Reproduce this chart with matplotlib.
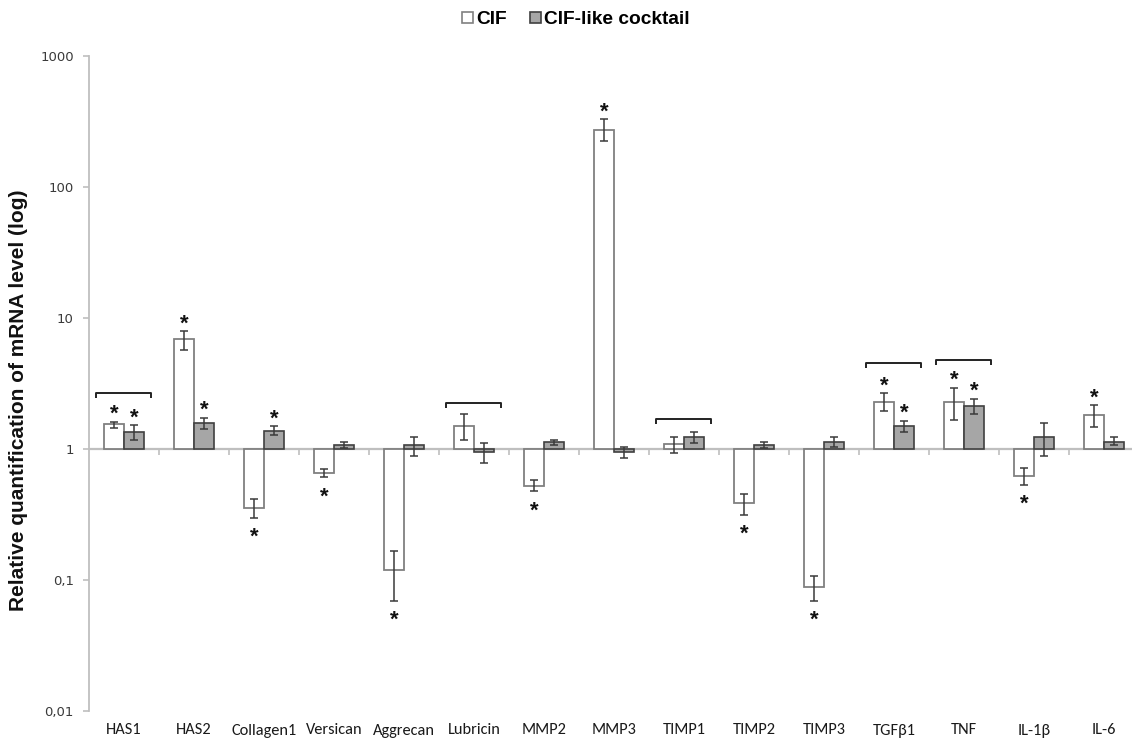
import matplotlib
matplotlib.use("Agg")
import matplotlib.pyplot as plt
from matplotlib import font_manager
from matplotlib.ticker import FixedLocator, FixedFormatter, NullLocator
from matplotlib.patches import Patch
import numpy as np

# ---------------- data ----------------
genes = ["HAS1", "HAS2", "Collagen1", "Versican", "Aggrecan", "Lubricin", "MMP2",
         "MMP3", "TIMP1", "TIMP2", "TIMP3", "TGFβ1", "TNF", "IL-1β", "IL-6"]

cif = [1.54, 6.9, 0.356, 0.66, 0.119, 1.49, 0.52, 272, 1.086, 0.385, 0.0885, 2.30, 2.30, 0.625, 1.81]
cif_lo = [1.44, 5.7, 0.297, 0.608, 0.069, 1.18, 0.476, 224, 0.93, 0.314, 0.069, 1.94, 1.66, 0.531, 1.46]
cif_hi = [1.62, 7.9, 0.415, 0.707, 0.166, 1.84, 0.577, 330, 1.23, 0.456, 0.108, 2.66, 2.94, 0.712, 2.16]

cock = [1.34, 1.58, 1.37, 1.07, 1.07, 0.944, 1.13, 0.95, 1.23, 1.07, 1.14, 1.49, 2.13, 1.23, 1.14]
cock_lo = [1.17, 1.43, 1.28, 1.01, 0.88, 0.78, 1.07, 0.86, 1.12, 1.02, 1.04, 1.35, 1.85, 0.88, 1.07]
cock_hi = [1.52, 1.73, 1.49, 1.13, 1.24, 1.105, 1.18, 1.04, 1.36, 1.13, 1.23, 1.64, 2.42, 1.57, 1.24]

cif_sig = [1, 1, 1, 1, 1, 0, 1, 1, 0, 1, 1, 1, 1, 1, 1]
cock_sig = [1, 1, 1, 0, 0, 0, 0, 0, 0, 0, 0, 1, 1, 0, 0]

bracket_genes = ["HAS1", "Lubricin", "TIMP1", "TGFβ1", "TNF"]
bracket_level = [2.69, 2.24, 1.70, 4.51, 4.81]

ytick_vals = [0.01, 0.1, 1, 10, 100, 1000]
ytick_labels = ["0,01", "0,1", "1", "10", "100", "1000"]

series_names = ["CIF", "CIF-like cocktail"]

# ---------------- fonts ----------------
avail = {f.name for f in font_manager.fontManager.ttflist}
def pick(*names):
    for n in names:
        if n in avail:
            return n
    return "DejaVu Sans"

arial = pick("Liberation Sans", "Arial", "DejaVu Sans")
calibri = pick("Carlito", "Lato", "Open Sans", "Liberation Sans")
tickfont = pick("DejaVu Sans")

# ---------------- figure ----------------
W, H = 1132, 740
fig = plt.figure(figsize=(W / 100, H / 100), dpi=100)
ax = fig.add_axes([89 / W, (H - 711) / H, 1050 / W, 655 / H])
ax.set_yscale("log")
ax.set_ylim(0.01, 1000)
n = len(genes)
x = np.arange(n)
ax.set_xlim(-0.5, n - 0.5)

bw = 0.29
white_edge = "#808080"
gray_fill = "#a6a6a6"
gray_edge = "#404040"
err_col = "#3a3a3a"

cif_a = np.array(cif)
cock_a = np.array(cock)
ax.bar(x - bw / 2, cif_a - 1, bottom=1, width=bw, color="white", edgecolor=white_edge,
       linewidth=1.3, zorder=2)
ax.bar(x + bw / 2, cock_a - 1, bottom=1, width=bw, color=gray_fill, edgecolor=gray_edge,
       linewidth=1.2, zorder=2)

ax.errorbar(x - bw / 2, cif_a, yerr=[cif_a - np.array(cif_lo), np.array(cif_hi) - cif_a],
            fmt="none", ecolor=err_col, elinewidth=1.1, capsize=3.2, capthick=1.1, zorder=3)
ax.errorbar(x + bw / 2, cock_a, yerr=[cock_a - np.array(cock_lo), np.array(cock_hi) - cock_a],
            fmt="none", ecolor=err_col, elinewidth=1.1, capsize=3.2, capthick=1.1, zorder=3)

# horizontal axis line at 1 with category boundary ticks
ax.axhline(1, color="#bfbfbf", linewidth=1.6, zorder=1)
tick_drop = 10 ** (-6 / 131)
ax.vlines(np.arange(n) + 0.5, tick_drop, 1, color="#bfbfbf", linewidth=1.2, zorder=1)

# significance asterisks
def star(xpos, val, lo, hi):
    if val >= 1:
        ax.annotate("*", (xpos, hi), xytext=(0, 1.2), textcoords="offset points",
                    ha="center", va="baseline", fontsize=16, fontweight="bold",
                    family=arial, color="#111111", zorder=4)
    else:
        ax.annotate("*", (xpos, lo), xytext=(0, -18), textcoords="offset points",
                    ha="center", va="baseline", fontsize=16, fontweight="bold",
                    family=arial, color="#111111", zorder=4)

for i in range(n):
    if cif_sig[i]:
        star(x[i] - bw / 2, cif[i], cif_lo[i], cif_hi[i])
    if cock_sig[i]:
        star(x[i] + bw / 2, cock[i], cock_lo[i], cock_hi[i])

# brackets
bdrop = 10 ** (-5 / 131)
for g, lvl in zip(bracket_genes, bracket_level):
    i = genes.index(g)
    xs = [i - 0.4, i - 0.4, i + 0.39, i + 0.39]
    ys = [lvl * bdrop, lvl, lvl, lvl * bdrop]
    ax.plot(xs, ys, color="#222222", linewidth=1.4, zorder=4, solid_capstyle="butt")

# axes styling
for s in ["top", "right", "bottom"]:
    ax.spines[s].set_visible(False)
ax.spines["left"].set_color("#bfbfbf")
ax.spines["left"].set_linewidth(1.3)
ax.yaxis.set_major_locator(FixedLocator(ytick_vals))
ax.yaxis.set_major_formatter(FixedFormatter(ytick_labels))
ax.yaxis.set_minor_locator(NullLocator())
ax.tick_params(axis="y", which="major", length=4, width=1.2, color="#bfbfbf",
               labelsize=9.5, labelcolor="#3a3a3a", pad=7)
for lab in ax.get_yticklabels():
    lab.set_family(tickfont)

ax.set_xticks(x)
ax.set_xticklabels(genes, family=calibri, fontsize=11.8, color="#1a1a1a")
ax.tick_params(axis="x", length=0, pad=9)

ax.set_ylabel("Relative quantification of mRNA level (log)", family=arial,
              fontweight="bold", fontsize=15, color="#111111")
ax.yaxis.label.set_va("center")
ax.yaxis.set_label_coords((19 - 89) / 1050, (711 - 400) / 655)

handles = [Patch(facecolor="white", edgecolor=white_edge, linewidth=1.2),
           Patch(facecolor=gray_fill, edgecolor=gray_edge, linewidth=1.2)]
fig.legend(handles, series_names, loc="center", bbox_to_anchor=(576 / W, 1 - 20 / H),
           ncol=2, frameon=False, handlelength=0.55, handleheight=0.55, handletextpad=0.2,
           columnspacing=1.2, prop={"family": arial, "weight": "bold", "size": 13.8})

fig.savefig("out.png", dpi=100)
